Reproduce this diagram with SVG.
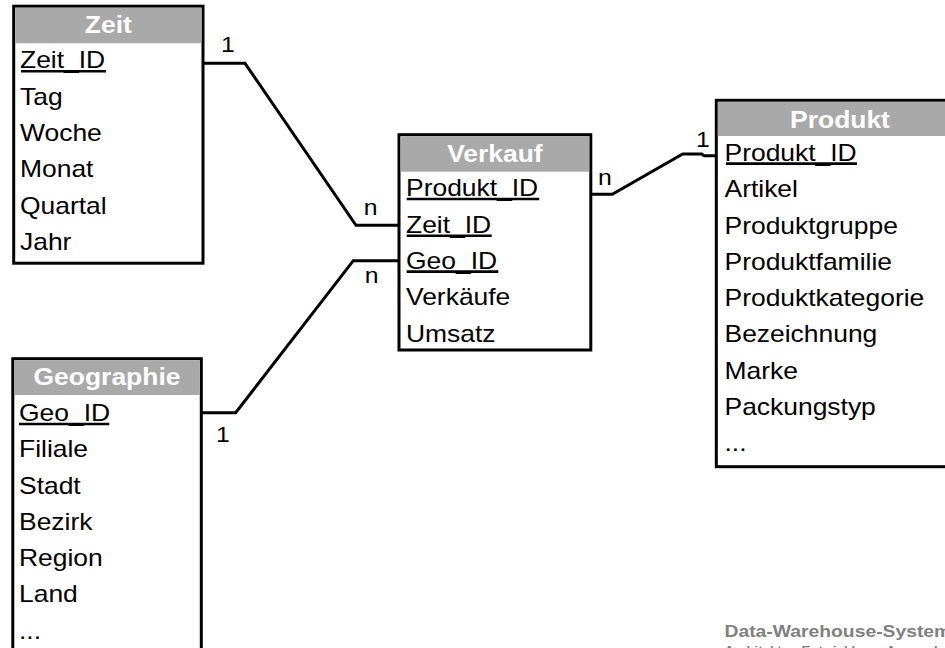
<svg xmlns="http://www.w3.org/2000/svg" width="945" height="648" viewBox="0 0 945 648">
  <style>
    .box { fill: #ffffff; stroke: #000000; stroke-width: 3; }
    .head { fill: #a9a9a9; stroke: none; }
    .title { font-family: "Liberation Sans", Arial, sans-serif; font-size: 23px; font-weight: bold; fill: #ffffff; text-anchor: middle; }
    .field { font-family: "Liberation Sans", Arial, sans-serif; font-size: 23px; fill: #000000; }
    .key { stroke: #000000; stroke-width: 2.6; }
    .link { fill: none; stroke: #000000; stroke-width: 3; stroke-linejoin: miter; }
    .card { font-family: "Liberation Sans", Arial, sans-serif; font-size: 22.5px; fill: #000000; text-anchor: middle; }
    .foot { font-family: "Liberation Sans", Arial, sans-serif; font-weight: bold; fill: #808080; }
  </style>

  <!-- connectors between the dimension tables and the fact table -->
  <g id="connectors">
    <polyline class="link" points="203,63.3 245,63.3 356,225.3 399,225.3"/>
    <polyline class="link" points="201.3,412.7 235.7,412.7 353.3,260.7 399,260.7"/>
    <polyline class="link" points="591,194.3 612.3,194.3 682.7,154 701.7,154 704,155.7 716,155.7"/>
    <g transform="translate(228,51.7) scale(1.1,1)"><text class="card" x="0" y="0">1</text></g>
    <g transform="translate(370.7,215) scale(1.1,1)"><text class="card" x="0" y="0">n</text></g>
    <g transform="translate(371.7,282.7) scale(1.1,1)"><text class="card" x="0" y="0">n</text></g>
    <g transform="translate(223,441.7) scale(1.1,1)"><text class="card" x="0" y="0">1</text></g>
    <g transform="translate(605,185) scale(1.1,1)"><text class="card" x="0" y="0">n</text></g>
    <g transform="translate(703,146.7) scale(1.1,1)"><text class="card" x="0" y="0">1</text></g>
  </g>

  <!-- Zeit -->
  <g id="zeit">
    <rect class="box" x="13.7" y="6.2" width="189.3" height="257"/>
    <rect class="head" x="15.2" y="7.7" width="186.3" height="35.6"/>
    <g transform="translate(108.3,0) scale(1.15,1)"><text class="title" x="0" y="33.3">Zeit</text></g>
    <g transform="translate(20,0) scale(1.15,1)">
      <text class="field" x="0" y="68.5">Zeit_ID</text>
      <text class="field" x="0" y="104.8">Tag</text>
      <text class="field" x="0" y="141.1">Woche</text>
      <text class="field" x="0" y="177.4">Monat</text>
      <text class="field" x="0" y="213.7">Quartal</text>
      <text class="field" x="0" y="250">Jahr</text>
    </g>
    <line class="key" x1="21" y1="71.3" x2="106" y2="71.3"/>
  </g>

  <!-- Verkauf -->
  <g id="verkauf">
    <rect class="box" x="399" y="134.7" width="191.8" height="215.3"/>
    <rect class="head" x="400.5" y="136.2" width="188.8" height="35.5"/>
    <g transform="translate(494.9,0) scale(1.15,1)"><text class="title" x="0" y="161.7">Verkauf</text></g>
    <g transform="translate(406,0) scale(1.15,1)">
      <text class="field" x="0" y="196.5">Produkt_ID</text>
      <text class="field" x="0" y="232.8">Zeit_ID</text>
      <text class="field" x="0" y="269.1">Geo_ID</text>
      <text class="field" x="0" y="305.4">Verkäufe</text>
      <text class="field" x="0" y="341.7">Umsatz</text>
    </g>
    <line class="key" x1="406.7" y1="199" x2="539.3" y2="199"/>
    <line class="key" x1="406.7" y1="235.8" x2="491.7" y2="235.8"/>
    <line class="key" x1="406.7" y1="271.6" x2="498.3" y2="271.6"/>
  </g>

  <!-- Produkt -->
  <g id="produkt">
    <rect class="box" x="716.3" y="100.3" width="247.4" height="366.4"/>
    <rect class="head" x="717.8" y="101.8" width="244.4" height="34.2"/>
    <g transform="translate(840,0) scale(1.15,1)"><text class="title" x="0" y="127.8">Produkt</text></g>
    <g transform="translate(724.5,0) scale(1.15,1)">
      <text class="field" x="0" y="161">Produkt_ID</text>
      <text class="field" x="0" y="197.3">Artikel</text>
      <text class="field" x="0" y="233.6">Produktgruppe</text>
      <text class="field" x="0" y="269.9">Produktfamilie</text>
      <text class="field" x="0" y="306.2">Produktkategorie</text>
      <text class="field" x="0" y="342.5">Bezeichnung</text>
      <text class="field" x="0" y="378.8">Marke</text>
      <text class="field" x="0" y="415.1">Packungstyp</text>
      <text class="field" x="0" y="451.4">...</text>
    </g>
    <line class="key" x1="726" y1="163.6" x2="857" y2="163.6"/>
  </g>

  <!-- Geographie -->
  <g id="geographie">
    <rect class="box" x="12.8" y="358.7" width="188.5" height="310"/>
    <rect class="head" x="14.3" y="360.2" width="185.5" height="34.8"/>
    <g transform="translate(107,0) scale(1.15,1)"><text class="title" x="0" y="385.5">Geographie</text></g>
    <g transform="translate(19,0) scale(1.15,1)">
      <text class="field" x="0" y="421">Geo_ID</text>
      <text class="field" x="0" y="457.3">Filiale</text>
      <text class="field" x="0" y="493.6">Stadt</text>
      <text class="field" x="0" y="529.9">Bezirk</text>
      <text class="field" x="0" y="566.2">Region</text>
      <text class="field" x="0" y="602.5">Land</text>
      <text class="field" x="0" y="638.8">...</text>
    </g>
    <line class="key" x1="19" y1="424" x2="109.3" y2="424"/>
  </g>

  <!-- book footer -->
  <g id="footer">
    <g transform="translate(724.5,0) scale(1.15,1)">
      <text class="foot" x="0" y="637.3" font-size="16.8">Data-Warehouse-Systeme</text>
      <text class="foot" x="0" y="653.8" font-size="11.5" font-weight="normal">Architektur, Entwicklung, Anwendung</text>
    </g>
  </g>
</svg>
